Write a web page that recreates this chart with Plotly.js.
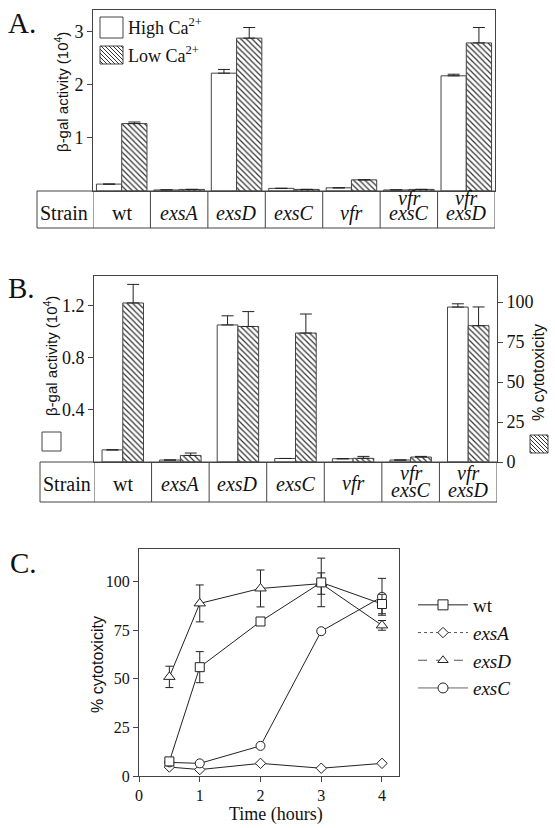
<!DOCTYPE html>
<html><head><meta charset="utf-8">
<script src="https://cdn.plot.ly/plotly-3.0.1.min.js"></script>
<style>body{margin:0;background:#fff}</style>
</head><body><div id="chart" style="width:555px;height:828px"></div>
<script>
// ---------- data ----------
const strains = ["wt","exsA","exsD","exsC","vfr","vfr exsC","vfr exsD"];
// Panel A: beta-gal activity (10^4)
const aHighCa    = [0.13, 0.02, 2.22, 0.05, 0.06, 0.02, 2.17];
const aHighCaErr = [0, 0, 0.07, 0, 0, 0, 0.03];
const aLowCa     = [1.27, 0.03, 2.88, 0.03, 0.21, 0.03, 2.79];
const aLowCaErr  = [0.03, 0, 0.20, 0, 0, 0, 0.29];
// Panel B
const bBgal      = [0.093, 0.015, 1.05, 0.027, 0.025, 0.015, 1.187];
const bBgalErr   = [0, 0, 0.07, 0, 0, 0, 0.025];
const bCyto      = [99.4, 4.1, 84.7, 80.6, 2.3, 3.1, 85.2];
const bCytoErr   = [11.6, 1.5, 9.3, 11.9, 1.2, 0.4, 11.7];
// Panel C: % cytotoxicity vs time
const timeH      = [0.5, 1, 2, 3, 4];
const cWt        = [7.5, 56, 79.5, 99.6, 88.5];
const cWtErr     = [0, 8, 0, 12.5, 5];
const cExsA      = [4.6, 3.3, 6.5, 4.0, 6.5];
const cExsD      = [51, 88.8, 96.5, 99, 77.5];
const cExsDErr   = [5.5, 9.5, 9.5, 5.5, 2.5];
const cExsC      = [7, 6.5, 15.5, 74.5, 92.2];
const cExsCErr   = [0, 0, 0, 0, 9.5];
const seriesNames = ["wt","exsA","exsD","exsC"];

// ---------- helpers ----------
const W = 555, H = 828;
const X = p => p / W, Y = p => 1 - p / H;
const SERIF = "'Liberation Serif', 'Times New Roman', Times, serif";
const SANS = "'Liberation Sans', Arial, sans-serif";
const INK = "#222", FRAME = "#444";
const zeros = a => a.map(() => 0);
const lab = s => s === "wt" ? s : "<i>" + s + "</i>";

function hatch(x0, y0, x1, y1, step) {
  let d = "";
  for (let c = y0 - x1 + step / 2; c < y1 - x0; c += step) {
    const xa = Math.max(x0, y0 - c), xb = Math.min(x1, y1 - c);
    if (xb > xa) d += `M${X(xa)},${Y(xa + c)}L${X(xb)},${Y(xb + c)}`;
  }
  return [
    {type:"rect", xref:"paper", yref:"paper", x0:X(x0), x1:X(x1), y0:Y(y1), y1:Y(y0), line:{color:FRAME, width:1}, fillcolor:"white"},
    {type:"path", xref:"paper", yref:"paper", path:d, line:{color:"#333", width:1}}
  ];
}
function box(x0, y0, x1, y1) {
  return {type:"rect", xref:"paper", yref:"paper", x0:X(x0), x1:X(x1), y0:Y(y1), y1:Y(y0), line:{color:FRAME, width:1}, fillcolor:"white"};
}
function table(xa, left, right, top, bottom, singleBase, twoBase) {
  const sh = [], an = [];
  sh.push({type:"line", xref:"paper", yref:"paper", x0:X(left), x1:X(right), y0:Y(top), y1:Y(top), line:{color:FRAME, width:1}});
  sh.push({type:"line", xref:"paper", yref:"paper", x0:X(left), x1:X(right), y0:Y(bottom), y1:Y(bottom), line:{color:FRAME, width:1}});
  sh.push({type:"line", xref:"paper", yref:"paper", x0:X(left), x1:X(left), y0:Y(top), y1:Y(bottom), line:{color:FRAME, width:1}});
  for (let i = 0; i <= strains.length; i++) {
    sh.push({type:"line", xref:xa, yref:"paper", x0:i - 0.5, x1:i - 0.5, y0:Y(top), y1:Y(bottom), line:{color:FRAME, width:1}});
  }
  const f = {family:SERIF, size:20, color:"#111"};
  an.push({xref:"paper", yref:"paper", x:X(left + 1), xanchor:"left", y:Y(singleBase - 6.5), yanchor:"middle", text:"Strain", showarrow:false, font:f});
  strains.forEach((s, i) => {
    const parts = s.split(" ");
    if (parts.length === 1) {
      an.push({xref:xa, yref:"paper", x:i, xanchor:"center", y:Y(singleBase - 6.5), yanchor:"middle", text:lab(s), showarrow:false, font:f});
    } else {
      an.push({xref:xa, yref:"paper", x:i, xanchor:"center", y:Y(twoBase[0] - 6.5), yanchor:"middle", text:lab(parts[0]), showarrow:false, font:f});
      an.push({xref:xa, yref:"paper", x:i, xanchor:"center", y:Y(twoBase[1] - 6.5), yanchor:"middle", text:lab(parts[1]), showarrow:false, font:f});
    }
  });
  return {sh, an};
}

// ---------- traces ----------
const barLine = {color:FRAME, width:1};
const pat = {shape:"\\", fgcolor:"#333", bgcolor:"white", size:4, solidity:0.3};
const ebar = (arr) => ({type:"data", array:arr, arrayminus:zeros(arr), symmetric:false, color:INK, thickness:1, width:6});

const traces = [
  {type:"bar", x:strains, y:aHighCa, xaxis:"x", yaxis:"y", width:0.44, offset:-0.44,
   marker:{color:"white", line:barLine}, error_y:ebar(aHighCaErr), showlegend:false, name:"High Ca2+"},
  {type:"bar", x:strains, y:aLowCa, xaxis:"x", yaxis:"y", width:0.44, offset:0,
   marker:{color:"white", line:barLine, pattern:pat}, error_y:ebar(aLowCaErr), showlegend:false, name:"Low Ca2+"},
  {type:"bar", x:strains, y:bBgal, xaxis:"x2", yaxis:"y2", width:0.36, offset:-0.36,
   marker:{color:"white", line:barLine}, error_y:ebar(bBgalErr), showlegend:false, name:"β-gal"},
  {type:"bar", x:strains, y:bCyto, xaxis:"x2", yaxis:"y3", width:0.36, offset:0,
   marker:{color:"white", line:barLine, pattern:pat}, error_y:ebar(bCytoErr), showlegend:false, name:"% cytotoxicity"}
];

const cErr = arr => ({type:"data", array:arr, color:INK, thickness:1, width:4});
const mk = (sym, size) => ({symbol:sym, size:size, color:"white", line:{color:INK, width:1}});
traces.push(
  {type:"scatter", mode:"lines+markers", x:timeH, y:cExsA, xaxis:"x3", yaxis:"y4", line:{color:INK, width:1}, marker:mk("diamond", 8), showlegend:false},
  {type:"scatter", mode:"lines+markers", x:timeH, y:cExsD, xaxis:"x3", yaxis:"y4", line:{color:INK, width:1}, marker:mk("triangle-up", 10), error_y:cErr(cExsDErr), showlegend:false},
  {type:"scatter", mode:"lines+markers", x:timeH, y:cExsC, xaxis:"x3", yaxis:"y4", line:{color:INK, width:1}, marker:mk("circle", 9), error_y:cErr(cExsCErr), showlegend:false},
  {type:"scatter", mode:"lines+markers", x:timeH, y:cWt, xaxis:"x3", yaxis:"y4", line:{color:INK, width:1}, marker:mk("square", 9), error_y:cErr(cWtErr), showlegend:false}
);
// legend entries for panel C
const legStyles = [
  {dash:"solid", color:INK, sym:"square", size:10},
  {dash:"dot", color:"#555", sym:"diamond", size:8},
  {dash:"dash", color:"#555", sym:"triangle-up", size:9},
  {dash:"solid", color:"#666", sym:"circle", size:10}
];
seriesNames.forEach((n, i) => {
  const s = legStyles[i];
  traces.push({type:"scatter", mode:"lines+markers", x:[null], y:[null], xaxis:"x3", yaxis:"y4",
    name:lab(n), line:{color:s.color, width:1, dash:s.dash},
    marker:{symbol:s.sym, size:s.size, color:"white", line:{color:INK, width:1}}, showlegend:true, legendgroup:n});
});

// ---------- layout ----------
const tA = table("x", 37, 495, 191, 228, 220, [205.5, 220]);
const tB = table("x2", 40, 497, 462, 502, 490, [480, 496.5]);

const axLine = {showline:true, linecolor:FRAME, linewidth:1, showgrid:false, zeroline:false, fixedrange:true};
const tickF = (s) => ({family:SERIF, size:s, color:"#111"});

const shapes = [].concat(
  tA.sh, tB.sh,
  [box(100, 17, 123, 38)], hatch(100, 46, 123, 64, 4),
  [box(42, 432, 61, 451)], hatch(530, 435, 548, 453, 4)
);

const cc = {xanchor:"center", yanchor:"middle", showarrow:false};
const ann = [].concat(tA.an, tB.an, [
  {xref:"paper", yref:"paper", x:X(6), xanchor:"left", y:Y(23), yanchor:"middle", text:"A.", showarrow:false, font:{family:SERIF, size:29, color:"#111"}},
  {xref:"paper", yref:"paper", x:X(6), xanchor:"left", y:Y(288), yanchor:"middle", text:"B.", showarrow:false, font:{family:SERIF, size:29, color:"#111"}},
  {xref:"paper", yref:"paper", x:X(8), xanchor:"left", y:Y(563), yanchor:"middle", text:"C.", showarrow:false, font:{family:SERIF, size:29, color:"#111"}},
  {xref:"paper", yref:"paper", x:X(126), xanchor:"left", y:Y(26), yanchor:"middle", text:"High Ca<sup>2+</sup>", showarrow:false, font:{family:SERIF, size:18, color:"#111"}},
  {xref:"paper", yref:"paper", x:X(126), xanchor:"left", y:Y(55), yanchor:"middle", text:"Low Ca<sup>2+</sup>", showarrow:false, font:{family:SERIF, size:18, color:"#111"}},
  Object.assign({xref:"paper", yref:"paper", x:X(61), y:Y(92), textangle:-90, text:"β-gal activity (10<sup>4</sup>)", font:{family:SANS, size:15, color:"#111"}}, cc),
  Object.assign({xref:"paper", yref:"paper", x:X(50), y:Y(356), textangle:-90, text:"β-gal activity (10<sup>4</sup>)", font:{family:SANS, size:15, color:"#111"}}, cc),
  Object.assign({xref:"paper", yref:"paper", x:X(538), y:Y(373), textangle:-90, text:"% cytotoxicity", font:{family:SANS, size:16, color:"#111"}}, cc),
  Object.assign({xref:"paper", yref:"paper", x:X(97), y:Y(665), textangle:-90, text:"% cytotoxicity", font:{family:SANS, size:16, color:"#111"}}, cc),
  Object.assign({xref:"paper", yref:"paper", x:X(276), y:Y(814), text:"Time (hours)", font:{family:SERIF, size:18, color:"#111"}}, cc)
]);

const layout = {
  width:W, height:H, margin:{l:0, r:0, t:0, b:0},
  paper_bgcolor:"white", plot_bgcolor:"rgba(0,0,0,0)",
  font:{family:SERIF, size:16, color:"#111"},
  showlegend:true,
  legend:{x:X(413), y:Y(586), xanchor:"left", yanchor:"top", bgcolor:"rgba(0,0,0,0)",
          font:{family:SERIF, size:19, color:"#111"}, tracegroupgap:3, itemwidth:50, traceorder:"normal"},
  xaxis:Object.assign({}, axLine, {domain:[X(93), X(495)], anchor:"y", type:"category", range:[-0.5, 6.5], mirror:true, ticks:"", showticklabels:false}),
  yaxis:Object.assign({}, axLine, {domain:[Y(191), Y(10)], anchor:"x", range:[0, 3.41], mirror:true, tickvals:[1,2,3], ticks:"outside", ticklen:5, tickcolor:FRAME, tickfont:tickF(18)}),
  xaxis2:Object.assign({}, axLine, {domain:[X(94), X(497)], anchor:"y2", type:"category", range:[-0.5, 6.5], mirror:true, ticks:"", showticklabels:false}),
  yaxis2:Object.assign({}, axLine, {domain:[Y(462), Y(276)], anchor:"x2", range:[0, 1.425], tickvals:[0.4,0.8,1.2], ticktext:["0.4","0.8","1.2"], ticks:"outside", ticklen:5, tickcolor:FRAME, tickfont:tickF(18)}),
  yaxis3:Object.assign({}, axLine, {overlaying:"y2", side:"right", anchor:"x2", range:[0, 116.25], tickvals:[0,25,50,75,100], ticks:"outside", ticklen:5, tickcolor:FRAME, tickfont:tickF(18)}),
  xaxis3:Object.assign({}, axLine, {domain:[X(139), X(399)], anchor:"y4", range:[0, 4.28], mirror:true, tickvals:[0,1,2,3,4], ticks:"outside", ticklen:5, tickcolor:FRAME, tickfont:tickF(16)}),
  yaxis4:Object.assign({}, axLine, {domain:[Y(776), Y(549)], anchor:"x3", range:[0, 116.8], mirror:true, tickvals:[0,25,50,75,100], ticks:"outside", ticklen:5, tickcolor:FRAME, tickfont:tickF(16)}),
  shapes:shapes, annotations:ann
};

Plotly.newPlot("chart", traces, layout, {displayModeBar:false, responsive:false});
</script></body></html>
